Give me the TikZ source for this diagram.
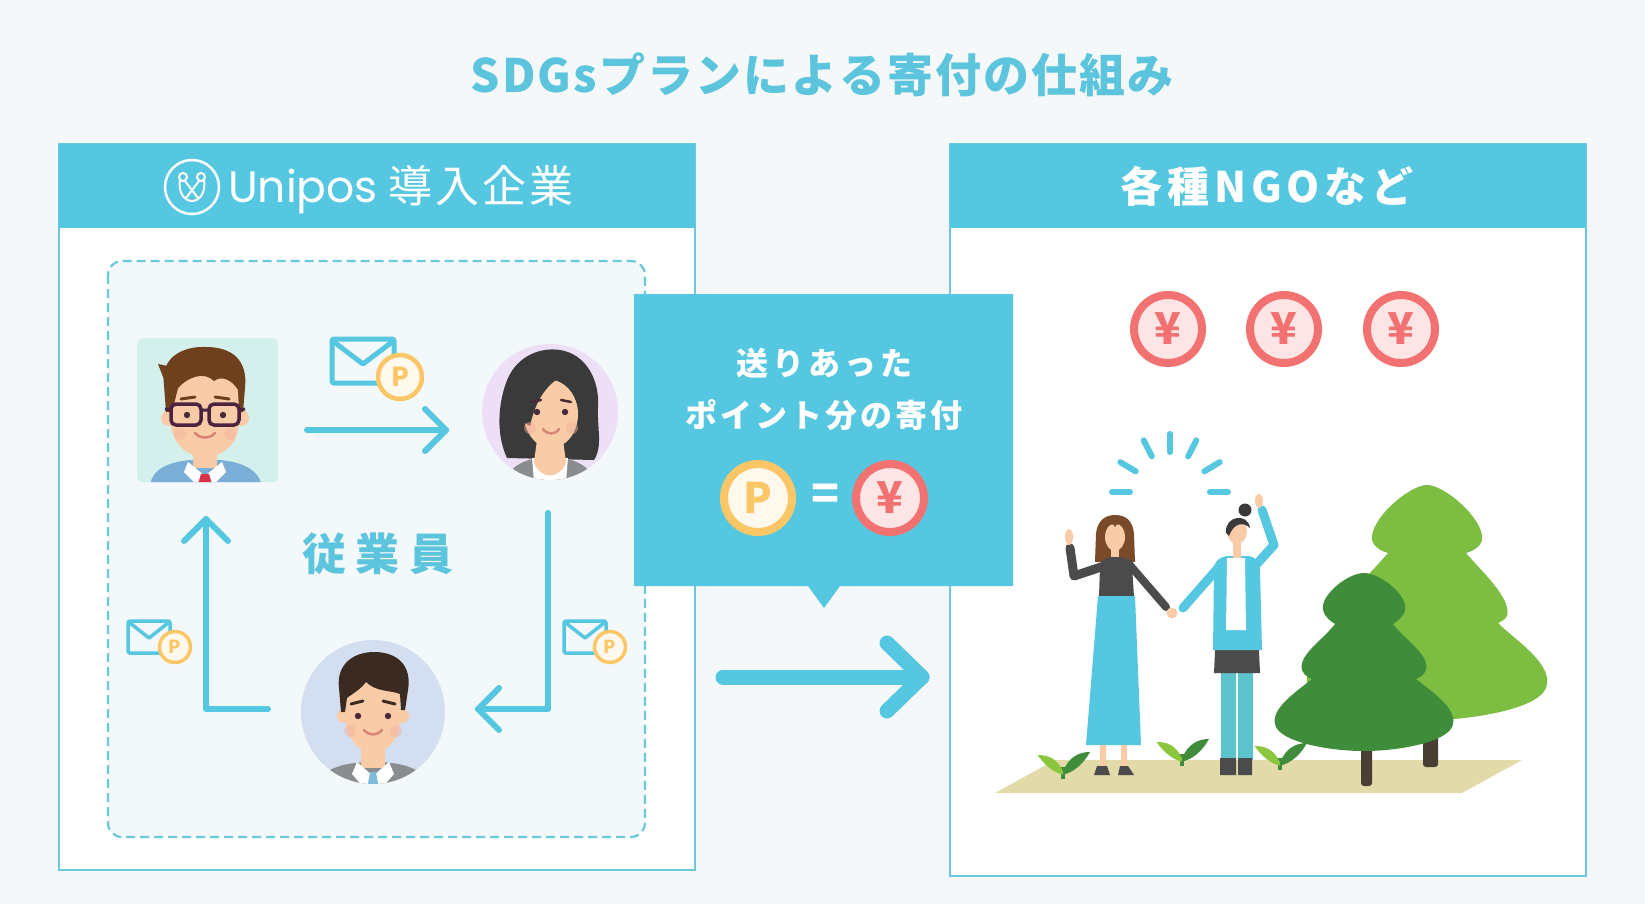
\documentclass[tikz,border=0pt]{standalone}
\usepackage{fontspec}
\newfontfamily\jp{Noto Sans CJK JP}
\newfontfamily\pop{Poppins}
\usetikzlibrary{calc}

% letter-spaced text: \spaced{gap}{characters}
\makeatletter
\def\spaced#1#2{\def\sp@amt{#1}\sp@loop#2\@nil}
\def\sp@loop#1{\ifx\@nil#1\unskip\else#1\hskip\sp@amt\relax\expandafter\sp@loop\fi}
\makeatother

\definecolor{bgc}{HTML}{F4F8F9}
\definecolor{cy}{HTML}{56C7E0}
\definecolor{edge}{HTML}{6CC8DD}
\definecolor{titlec}{HTML}{5CC5DD}
\definecolor{inner}{HTML}{F3F8FA}
\definecolor{gold}{HTML}{FBC766}
\definecolor{goldin}{HTML}{FFF8EC}
\definecolor{rd}{HTML}{F27272}
\definecolor{rdin}{HTML}{FDE5E5}
\definecolor{skin}{HTML}{F9CBA6}
\definecolor{cheek}{HTML}{F6B29C}
\definecolor{mint}{HTML}{D4F0EC}
\definecolor{lav}{HTML}{ECDFF6}
\definecolor{pale}{HTML}{D3DFF0}
\definecolor{brown}{HTML}{6E401E}
\definecolor{glassc}{HTML}{4B2340}
\definecolor{eye}{HTML}{4A2A3A}
\definecolor{lip}{HTML}{D98478}
\definecolor{suitb}{HTML}{7BAED6}
\definecolor{tie}{HTML}{D8334A}
\definecolor{hairdk}{HTML}{3A3A3A}
\definecolor{hairm}{HTML}{3B2A22}
\definecolor{grayc}{HTML}{8A8D8F}
\definecolor{tieb}{HTML}{7DBBD8}
\definecolor{ground}{HTML}{E3DAA9}
\definecolor{leafl}{HTML}{7DBE42}
\definecolor{leafd}{HTML}{3F8D3A}
\definecolor{sproutl}{HTML}{8CC63F}
\definecolor{trunk}{HTML}{4A3F35}
\definecolor{topc}{HTML}{4B4B4B}
\definecolor{hairbr}{HTML}{7B4A2B}
\definecolor{legc}{HTML}{5CC2CC}

\tikzset{
  flow/.style={cy, line width=6, line cap=round, line join=round},
  bigflow/.style={cy, line width=15, line cap=round, line join=round},
  pcoin/.style={circle, draw=gold, fill=goldin, text=gold, inner sep=0pt},
  ycoin/.style={circle, draw=rd, fill=rdin, text=rd, inner sep=0pt},
  env/.style={draw=cy, rounded corners=2, line join=round},
  flap/.style={cy, line join=round, line cap=round},
  panel/.style={draw=edge, line width=2, fill=white},
  ray/.style={cy, line width=6, line cap=round},
  sprout/.pic={
    \fill[leafd] (-1.5,0) rectangle (1.5,-8);
    \fill[sproutl] (0,-5) .. controls (-4,-14) and (-10,-16) .. (-17,-16)
                  .. controls (-12,-9) and (-6,-4) .. (0,-3) -- cycle;
    \fill[leafd] (0,-5) .. controls (4,-15) and (11,-18) .. (18,-18)
                  .. controls (13,-9) and (6,-4) .. (0,-3) -- cycle;
  }
}

\begin{document}
\begin{tikzpicture}[x=1pt,y=-1pt]
\fill[bgc] (0,0) rectangle (1645,904);
\useasboundingbox (0,0) rectangle (1645,904);

% ---------- title ----------
\node[text=titlec, font=\jp\bfseries\fontsize{46}{46}\selectfont] (title) at (822,75)
  {\spaced{2pt}{SDGsプランによる寄付の仕組み}};

% ---------- left panel: company ----------
\draw[panel] (59,144) rectangle (695,870);
\fill[cy] (59,144) rectangle (695,228);
\node[circle, draw=white, line width=2.5, minimum size=54, inner sep=0] (logo) at (192,187) {};
\draw[white, line width=2] (183,177) circle (4) (201,177) circle (4);
\draw[white, line width=2, line cap=round] (180,180) .. controls (178,192) and (184,201) .. (192,201)
      .. controls (200,201) and (206,192) .. (204,180);
\draw[white, line width=2, line cap=round] (185,181) -- (198,198) (199,181) -- (186,198);
\node[anchor=base west, inner sep=0, text=white, font=\pop\fontsize{44}{44}\selectfont] (uni) at (228,203) {Unipos};
\node[text=white, font=\jp\fontsize{44}{44}\selectfont, inner sep=0] (company) at (481,186) {\spaced{3pt}{導入企業}};

\draw[edge, line width=2.2, dash pattern=on 9 off 5, rounded corners=14, fill=inner] (108,261) rectangle (645,837);

\node[text=titlec, font=\jp\bfseries\fontsize{44}{44}\selectfont] (staff) at (378,554) {\spaced{10pt}{従業員}};

% employee 1: man with glasses
\node[fill=mint, rounded corners=5, minimum width=141, minimum height=144, inner sep=0, anchor=north west] (emp1) at (137,338) {};
\begin{scope}
  \clip[rounded corners=5] (137,338) rectangle (278,482);
  \fill[suitb] (150,486) .. controls (152,468) and (170,462) .. (190,460) -- (220,460)
        .. controls (240,462) and (258,468) .. (262,486) -- cycle;
  \fill[skin] (193,440) rectangle (217,468);
  \fill[white] (188,462) -- (205,476) -- (222,462) -- (226,472) -- (214,484) -- (196,484) -- (184,472) -- cycle;
  \fill[tie] (201,474) -- (209,474) -- (212,484) -- (198,484) -- cycle;
\end{scope}
\fill[skin] (169,418) circle (8) (241,418) circle (8);
\fill[skin] (171,368) -- (171,425) .. controls (173,446) and (189,457) .. (205,457)
      .. controls (221,457) and (237,446) .. (239,425) -- (239,368) -- cycle;
\fill[brown] (166,412) -- (164,385) .. controls (160,358) and (182,346) .. (206,347)
      .. controls (232,347) and (248,360) .. (245,388) -- (243,412) -- (239,412) -- (238,390)
      .. controls (232,380) and (222,375) .. (214,381) .. controls (204,371) and (188,377) .. (178,388)
      -- (172,412) -- cycle;
\fill[brown] (168,366) -- (158,364) -- (165,382) -- cycle;
\draw[brown, line width=3, line cap=round] (181,399) -- (195,397) (215,397) -- (229,399);
\draw[glassc, line width=3.5, rounded corners=5] (171,404) rectangle (201,425) (209,404) rectangle (239,425);
\draw[glassc, line width=3] (201,410) -- (209,410) (171,410) -- (165,409) (239,410) -- (245,409);
\fill[eye] (187,415) circle (3.2) (223,415) circle (3.2);
\fill[cheek, opacity=.45] (180,434) circle (6) (230,434) circle (6);
\draw[lip, line width=2.5, line cap=round] (195,433) .. controls (200,439) and (210,439) .. (215,433);

% employee 2: woman
\node[circle, fill=lav, minimum size=136, inner sep=0] (emp2) at (550,412) {};
\begin{scope}
  \clip (550,412) circle (68);
  \fill[hairdk] (507,458) .. controls (494,430) and (500,396) .. (508,378) .. controls (518,356) and (540,347) .. (560,350)
        .. controls (586,354) and (600,380) .. (598,408) .. controls (597,428) and (603,446) .. (594,460) -- cycle;
  \fill[grayc] (503,486) .. controls (508,465) and (528,457) .. (550,457) .. controls (572,457) and (592,465) .. (597,486) -- cycle;
  \fill[white] (532,458) -- (568,458) -- (566,482) -- (534,482) -- cycle;
  \fill[skin] (537,440) -- (563,440) -- (566,462) .. controls (560,480) and (540,480) .. (534,462) -- cycle;
\end{scope}
\fill[skin] (551,414) ellipse (27 and 34);
\fill[hairdk] (523,422) .. controls (520,388) and (540,372) .. (562,376) .. controls (548,384) and (536,398) .. (530,426) -- cycle;
\fill[hairdk] (560,376) .. controls (575,378) and (582,392) .. (579,412) .. controls (576,396) and (570,386) .. (556,380) -- cycle;
\draw[eye, line width=2.5, line cap=round] (531,402) -- (541,400) (561,400) -- (571,402);
\fill[eye] (537,412) circle (3.2) (565,412) circle (3.2);
\fill[cheek, opacity=.45] (530,428) circle (6) (572,428) circle (6);
\draw[lip, line width=2.5, line cap=round] (543,429) .. controls (547,435) and (555,435) .. (559,429);

% employee 3: young man
\node[circle, fill=pale, minimum size=144, inner sep=0] (emp3) at (373,712) {};
\begin{scope}
  \clip (373,712) circle (72);
  \fill[grayc] (313,792) .. controls (318,770) and (340,762) .. (373,762) .. controls (406,762) and (428,770) .. (433,792) -- cycle;
  \fill[skin] (361,740) rectangle (385,768);
  \fill[white] (357,762) -- (373,776) -- (389,762) -- (394,774) -- (380,790) -- (366,790) -- (352,774) -- cycle;
  \fill[tieb] (370,772) -- (376,772) -- (379,790) -- (367,790) -- cycle;
\end{scope}
\fill[skin] (344,716) circle (7) (402,716) circle (7);
\fill[skin] (346,680) -- (346,722) .. controls (348,742) and (360,752) .. (373,752)
      .. controls (386,752) and (398,742) .. (400,722) -- (400,680) -- cycle;
\fill[hairm] (341,712) -- (339,688) .. controls (336,664) and (354,652) .. (374,652)
      .. controls (398,652) and (412,666) .. (408,690) -- (405,710) -- (401,710) -- (400,694)
      .. controls (390,690) and (376,692) .. (366,682) .. controls (360,690) and (352,694) .. (347,698)
      -- (345,712) -- cycle;
\draw[hairm, line width=3, line cap=round] (351,704) -- (363,701) (383,701) -- (395,704);
\fill[eye] (358,716) circle (3.2) (388,716) circle (3.2);
\fill[cheek, opacity=.45] (350,731) circle (6) (396,731) circle (6);
\draw[lip, line width=2.5, line cap=round] (364,730) .. controls (369,736) and (377,736) .. (382,730);

% point messages
\draw[env, line width=5] (332,339) rectangle (394,383);
\draw[flap, line width=5] (334,342) -- (363,364) -- (392,342);
\node[pcoin, line width=4.5, minimum size=44, font=\jp\bfseries\fontsize{26}{26}\selectfont] (cp1) at (400,377) {P};

\draw[env, line width=3.5] (128,621) rectangle (170,653);
\draw[flap, line width=3.5] (130,623) -- (149,638) -- (168,623);
\node[pcoin, line width=3.5, minimum size=31, font=\jp\bfseries\fontsize{18}{18}\selectfont] (cp3) at (175,647) {P};

\draw[env, line width=3.5] (564,621) rectangle (606,653);
\draw[flap, line width=3.5] (566,623) -- (585,638) -- (604,623);
\node[pcoin, line width=3.5, minimum size=31, font=\jp\bfseries\fontsize{18}{18}\selectfont] (cp2) at (610,647) {P};

% arrows between employees
\coordinate (a1s) at (307,430);
\coordinate (a1e) at (446,430);
\draw[flow] (a1s) -- (a1e);
\draw[flow] ($(a1e)+(-21,-21)$) -- (a1e) -- ($(a1e)+(-21,21)$);

\coordinate (a2s) at (548,513);
\coordinate (a2e) at (478,709);
\draw[flow] (a2s) |- (a2e);
\draw[flow] ($(a2e)+(21,-21)$) -- (a2e) -- ($(a2e)+(21,21)$);

\coordinate (a3s) at (268,709);
\coordinate (a3e) at (206,519);
\draw[flow] (a3s) -| (a3e);
\draw[flow] ($(a3e)+(-22,22)$) -- (a3e) -- ($(a3e)+(22,22)$);

% ---------- right panel: NGOs ----------
\draw[panel] (950,144) rectangle (1586,876);
\fill[cy] (950,144) rectangle (1586,228);
\node[text=white, font=\jp\bfseries\fontsize{42}{42}\selectfont] (ngo) at (1267,186) {\spaced{5pt}{各種NGOなど}};

\node[ycoin, line width=8, minimum size=68, font=\jp\bfseries\fontsize{44}{44}\selectfont] (y1) at (1168,329) {¥};
\node[ycoin, line width=8, minimum size=68, font=\jp\bfseries\fontsize{44}{44}\selectfont] (y2) at (1284,329) {¥};
\node[ycoin, line width=8, minimum size=68, font=\jp\bfseries\fontsize{44}{44}\selectfont] (y3) at (1401,329) {¥};

% ground and sprouts
\fill[ground] (995,793) -- (1055,760) -- (1522,760) -- (1462,793) -- cycle;
\pic[scale=1.5] at (1063,779) {sprout};
\pic[scale=1.5] at (1182,766) {sprout};
\pic[scale=1.5] at (1280,770) {sprout};

% trees
\fill[trunk, rounded corners=3] (1423,700) rectangle (1438,767);
\fill[leafl] (1427,485) .. controls (1445,485) and (1485,520) .. (1482,540)
   .. controls (1480,548) and (1470,552) .. (1466,553)
   .. controls (1480,570) and (1512,598) .. (1507,616)
   .. controls (1505,620) and (1500,622) .. (1498,623)
   .. controls (1515,640) and (1555,665) .. (1546,688)
   .. controls (1538,708) and (1480,718) .. (1440,720) -- (1340,722)
   .. controls (1320,715) and (1300,705) .. (1308,688)
   .. controls (1299,665) and (1339,640) .. (1356,623)
   .. controls (1354,622) and (1349,620) .. (1347,616)
   .. controls (1342,598) and (1374,570) .. (1388,553)
   .. controls (1384,552) and (1374,548) .. (1372,540)
   .. controls (1369,520) and (1409,485) .. (1427,485) -- cycle;
\fill[trunk, rounded corners=3] (1361,730) rectangle (1372,786);
\fill[leafd] (1364,573) .. controls (1380,573) and (1408,595) .. (1405,610)
   .. controls (1403,618) and (1396,622) .. (1393,624)
   .. controls (1405,640) and (1430,655) .. (1426,670)
   .. controls (1424,676) and (1418,678) .. (1416,679)
   .. controls (1432,692) and (1460,710) .. (1452,727)
   .. controls (1445,742) and (1400,751) .. (1364,751)
   .. controls (1328,751) and (1283,742) .. (1276,727)
   .. controls (1268,710) and (1296,692) .. (1312,679)
   .. controls (1310,678) and (1304,676) .. (1302,670)
   .. controls (1298,655) and (1323,640) .. (1335,624)
   .. controls (1332,622) and (1325,618) .. (1323,610)
   .. controls (1320,595) and (1348,573) .. (1364,573) -- cycle;

% joy rays
\foreach \a in {-90,-117,-63,-149,-31,180,0}
  \draw[ray] (1170,492) ++(\a:40) -- ++(\a:18);

% woman with long hair
\fill[hairbr] (1095,562) -- (1096,534) .. controls (1097,521) and (1105,515) .. (1115,515)
   .. controls (1126,515) and (1133,521) .. (1134,534) -- (1135,562) -- cycle;
\fill[skin] (1115,537) ellipse (10 and 14);
\fill[hairbr] (1104,531) .. controls (1104,518) and (1126,518) .. (1126,531) .. controls (1122,524) and (1116,522) .. (1115,527)
   .. controls (1114,522) and (1108,524) .. (1104,531) -- cycle;
\fill[skin] (1111,549) rectangle (1119,558);
\fill[topc] (1099,597) -- (1100,566) .. controls (1101,560) and (1106,557) .. (1112,557) -- (1118,557)
   .. controls (1126,557) and (1131,560) .. (1132,566) -- (1134,597) -- cycle;
\draw[topc, line width=9, line join=round, line cap=round] (1104,566) -- (1074,576) -- (1070,548);
\fill[skin] (1069,537) ellipse (4 and 8);
\draw[topc, line width=8, line cap=round] (1128,563) -- (1166,607);
\fill[cy] (1098,596) -- (1135,596) -- (1141,745) -- (1086,745) -- cycle;
\fill[skin] (1100,745) rectangle (1106,767) (1121,745) rectangle (1127,767);
\fill[topc] (1094,775) -- (1097,766) -- (1107,766) -- (1110,775) -- cycle;
\fill[topc] (1118,775) -- (1120,766) -- (1128,766) -- (1134,775) -- cycle;

% woman with hair bun
\fill[legc] (1221,670) rectangle (1236,760) (1238,670) rectangle (1253,760);
\fill[topc] (1220,758) rectangle (1236,775) (1238,758) rectangle (1252,775);
\fill[topc] (1216,630) -- (1258,630) -- (1260,673) -- (1214,673) -- cycle;
\fill[cy] (1213,650) -- (1214,568) .. controls (1215,560) and (1220,557) .. (1228,556) -- (1248,556)
   .. controls (1256,557) and (1260,562) .. (1260,570) -- (1262,650) -- cycle;
\fill[white] (1227,558) -- (1245,558) -- (1246,630) -- (1226,630) -- cycle;
\draw[cy, line width=9, line cap=round] (1218,568) -- (1183,608);
\draw[cy, line width=9, line cap=round, line join=round] (1255,566) -- (1274,545) -- (1262,510);
\fill[skin] (1259,501) ellipse (4 and 7);
\fill[skin] (1172,613) circle (5.5);
\fill[skin] (1233,540) rectangle (1241,558);
\fill[skin] (1237,531) ellipse (10 and 13);
\fill[hairdk] (1226,533) .. controls (1224,516) and (1248,512) .. (1250,528) .. controls (1244,522) and (1234,522) .. (1229,536) -- cycle;
\fill[hairdk] (1245,510) circle (6.5);

% ---------- callout: donation by points ----------
\fill[cy] (634,294) -- (1013,294) -- (1013,586) -- (840,586) -- (824,608) -- (808,586) -- (634,586) -- cycle;
\node[text=white, font=\jp\bfseries\fontsize{32}{32}\selectfont] (cl1) at (824,363) {\spaced{4pt}{送りあった}};
\node[text=white, font=\jp\bfseries\fontsize{32}{32}\selectfont] (cl2) at (824,415) {\spaced{3pt}{ポイント分の寄付}};
\node[pcoin, line width=8, minimum size=68, font=\jp\bfseries\fontsize{42}{42}\selectfont] (pc) at (758,498) {P};
\node[text=white, font=\jp\bfseries\fontsize{46}{46}\selectfont] (eq) at (825,497) {=};
\node[ycoin, line width=8, minimum size=68, font=\jp\bfseries\fontsize{44}{44}\selectfont] (yc) at (890,498) {¥};

% flow from company to NGOs
\coordinate (ba) at (723,677);
\coordinate (bb) at (922,677);
\draw[bigflow] (ba) -- (bb);
\draw[bigflow] ($(bb)+(-35,-34)$) -- (bb) -- ($(bb)+(-35,34)$);
\end{tikzpicture}
\end{document}
